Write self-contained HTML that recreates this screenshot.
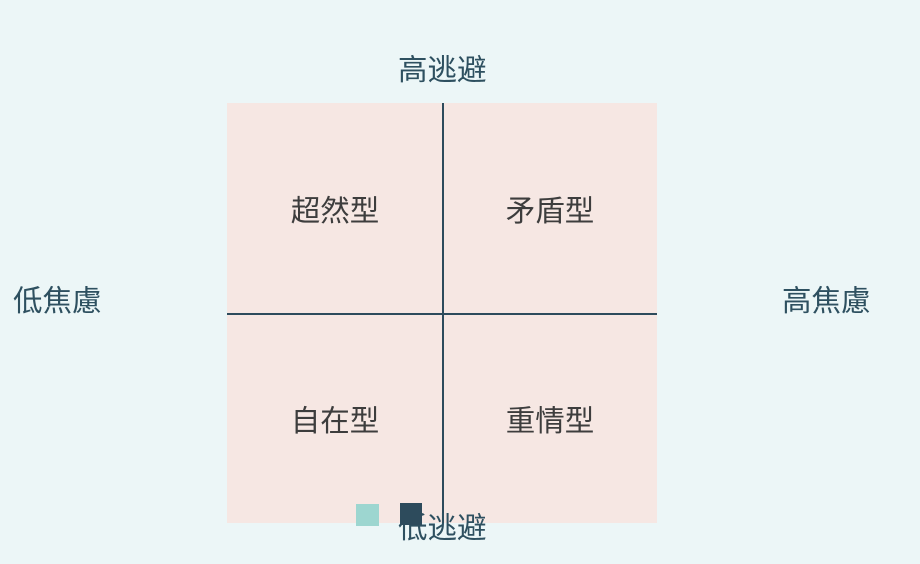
<!DOCTYPE html>
<html><head><meta charset="utf-8"><style>
body{margin:0;width:920px;height:564px;background:#ecf6f7;position:relative;overflow:hidden;font-family:"Liberation Sans","Noto Sans CJK SC",sans-serif}
.t{position:absolute;font-size:29.5px;line-height:30px;white-space:nowrap;font-weight:400}
.ax{color:#2e5060}
.q{color:#3d3d3d;transform:translateX(-50%)}
</style></head><body>
<div style="position:absolute;left:227px;top:103px;width:430px;height:420px;background:#f6e7e3"></div>
<div style="position:absolute;left:442px;top:103px;width:2px;height:420px;background:#2d4b5c"></div>
<div style="position:absolute;left:227px;top:313px;width:430px;height:2px;background:#2d4b5c"></div>
<div class="t ax" style="left:398px;top:56px">高逃避</div>
<div class="t ax" style="left:13px;top:287px">低焦慮</div>
<div class="t ax" style="left:782px;top:287px">高焦慮</div>
<div class="t q" style="left:335px;top:197px">超然型</div>
<div class="t q" style="left:550px;top:197px">矛盾型</div>
<div class="t q" style="left:335px;top:407px">自在型</div>
<div class="t q" style="left:550px;top:407px">重情型</div>
<div class="t ax" style="left:398px;top:514px">低逃避</div>
<div style="position:absolute;left:356px;top:504px;width:23px;height:22px;background:#9dd6d0"></div>
<div style="position:absolute;left:400px;top:503px;width:22px;height:22px;background:#2d4b5c"></div>
</body></html>
